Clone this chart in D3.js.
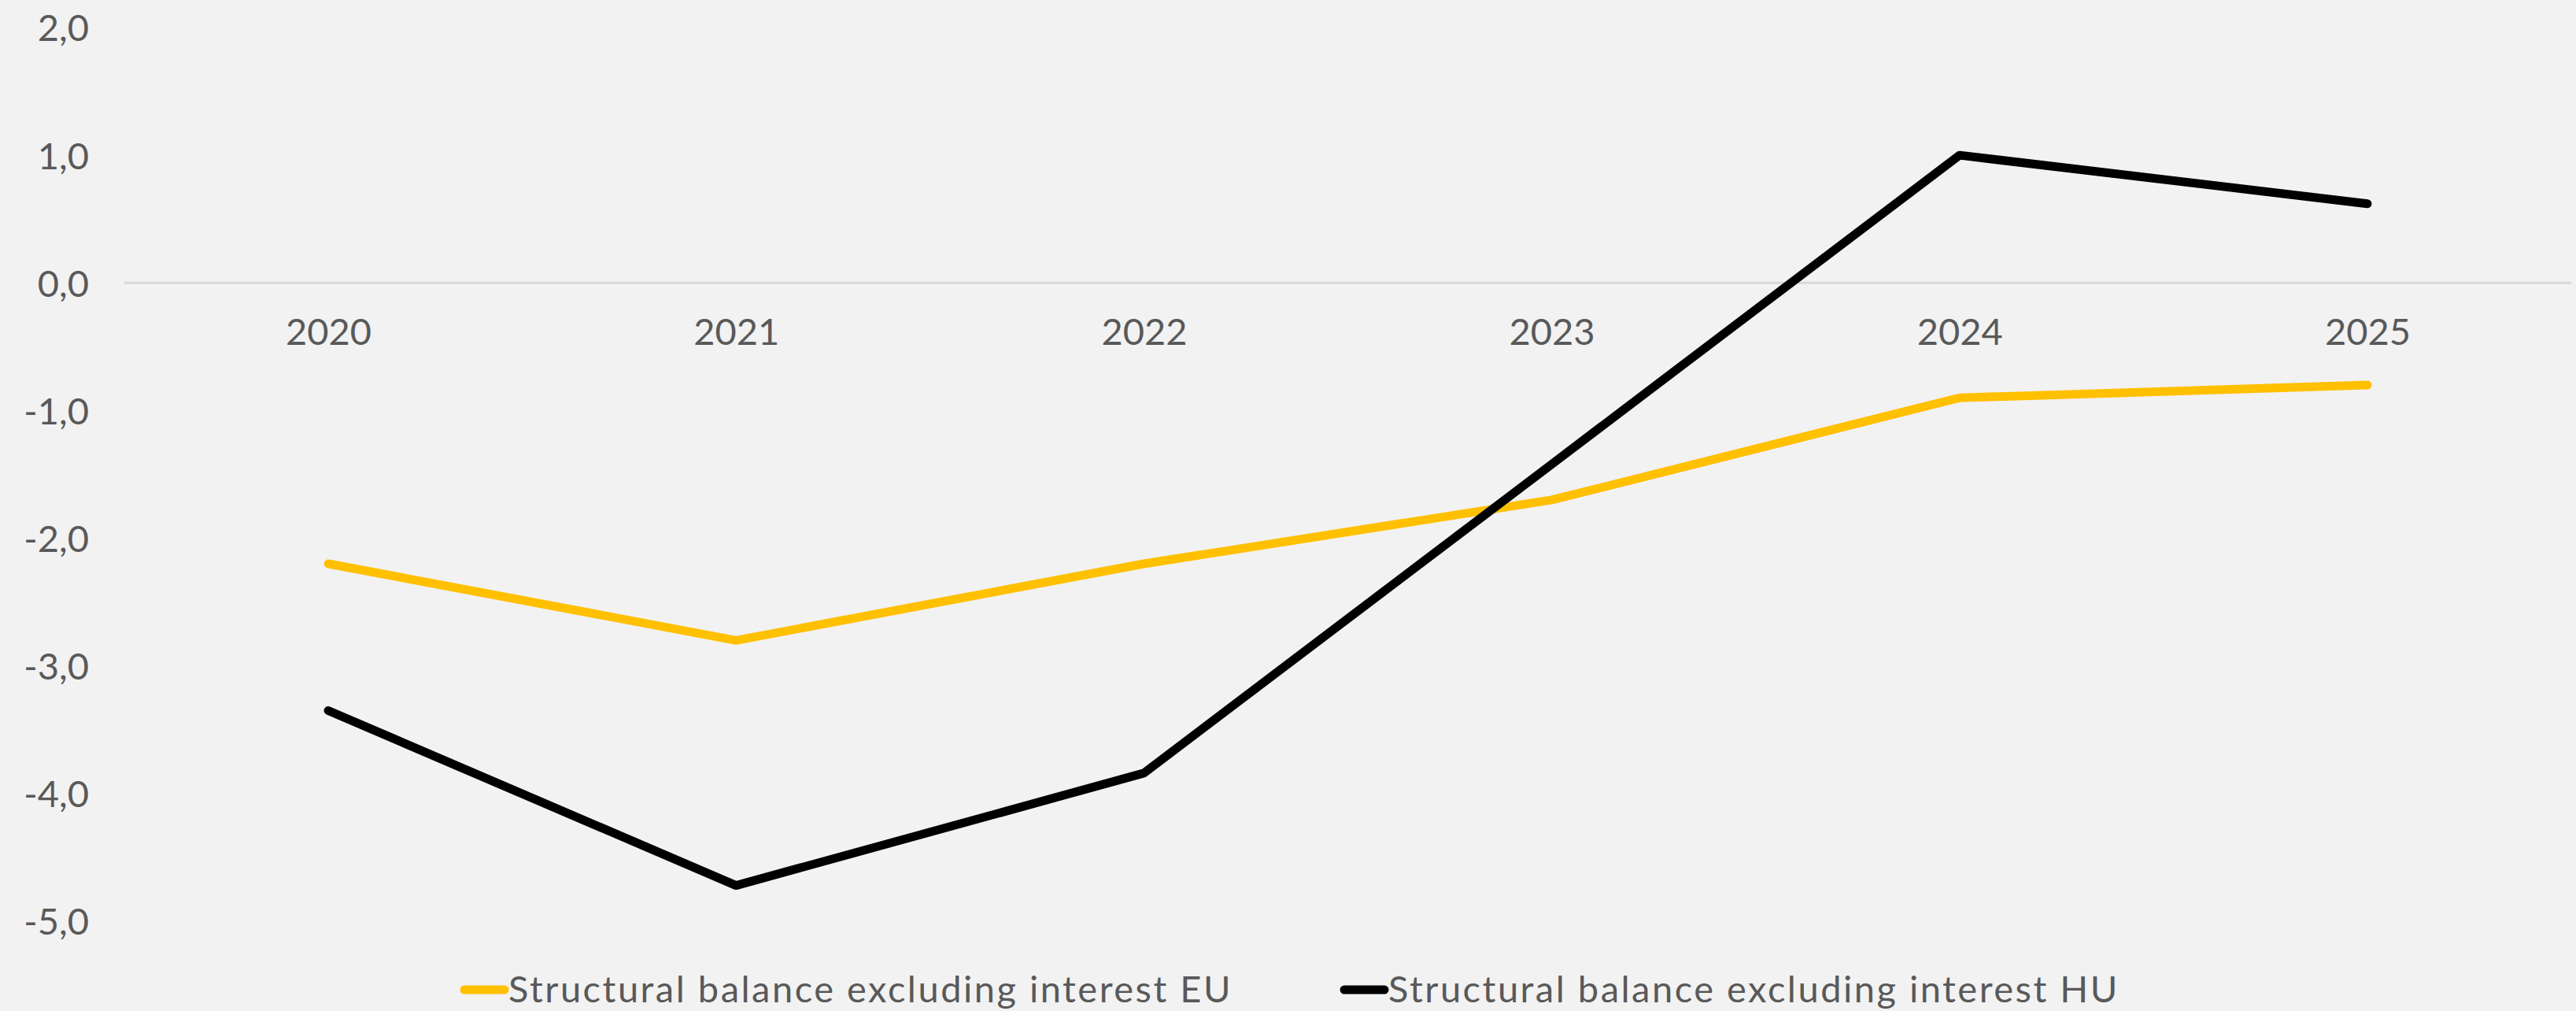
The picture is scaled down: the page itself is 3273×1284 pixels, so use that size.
<!DOCTYPE html>
<html>
<head>
<meta charset="utf-8">
<script src="https://cdn.jsdelivr.net/npm/d3@7"></script>
<style>
  html, body { margin: 0; padding: 0; background: #f2f2f2; }
  svg { display: block; }
  text { font-family: Lato, "Open Sans", sans-serif; fill: #595959; }
</style>
</head>
<body>
<svg id="chart" width="3273" height="1284"></svg>
<script>
// data
const years = ["2020", "2021", "2022", "2023", "2024", "2025"];
const euValues = [-2.2, -2.8, -2.2, -1.7, -0.9, -0.8];
const huValues = [-3.35, -4.72, -3.84, -1.42, 1.0, 0.62];
const seriesNames = ["Structural balance excluding interest EU", "Structural balance excluding interest HU"];
const seriesColors = ["#ffc000", "#000000"];
const yTicks = [2, 1, 0, -1, -2, -3, -4, -5];

const width = 3273, height = 1284;
const plotLeft = 158, plotRight = 3267, plotTop = 35, plotBottom = 1170;
const fontSize = 47;

const svg = d3.select("#chart");

svg.append("rect")
  .attr("width", width)
  .attr("height", height)
  .attr("fill", "#f2f2f2");

const x = d3.scalePoint()
  .domain(years)
  .range([plotLeft, plotRight])
  .padding(0.5);

const y = d3.scaleLinear()
  .domain([-5, 2])
  .range([plotBottom, plotTop]);

// y axis labels
const yAxis = svg.append("g")
  .attr("transform", "translate(113,0)")
  .call(d3.axisLeft(y).tickValues(yTicks).tickSize(0).tickPadding(0)
    .tickFormat(d => d3.format(".1f")(d).replace(".", ",").replace("−", "-")));
yAxis.select(".domain").remove();
yAxis.selectAll("text")
  .attr("font-size", fontSize)
  .attr("font-family", "Lato, sans-serif")
  .attr("fill", "#595959")
  .attr("dy", "0.36em");

// zero line
svg.append("line")
  .attr("x1", plotLeft)
  .attr("x2", plotRight)
  .attr("y1", y(0))
  .attr("y2", y(0))
  .attr("stroke", "#d9d9d9")
  .attr("stroke-width", 3);

// category labels under the zero line
const xAxis = svg.append("g")
  .attr("transform", `translate(0,${y(0)})`)
  .call(d3.axisBottom(x).tickSize(0).tickPadding(0));
xAxis.select(".domain").remove();
xAxis.selectAll("text")
  .attr("font-size", fontSize)
  .attr("font-family", "Lato, sans-serif")
  .attr("fill", "#595959")
  .attr("dy", null)
  .attr("y", 79);

// lines
const line = d3.line()
  .x((d, i) => x(years[i]))
  .y(d => y(d));

[euValues, huValues].forEach((vals, k) => {
  svg.append("path")
    .datum(vals)
    .attr("d", line)
    .attr("fill", "none")
    .attr("stroke", seriesColors[k])
    .attr("stroke-width", 11)
    .attr("stroke-linejoin", "round")
    .attr("stroke-linecap", "round");
});

// legend
const legendX = [585, 1703];
const legend = svg.append("g");
seriesNames.forEach((name, k) => {
  legend.append("line")
    .attr("x1", legendX[k] + 5)
    .attr("x2", legendX[k] + 56)
    .attr("y1", 1257)
    .attr("y2", 1257)
    .attr("stroke", seriesColors[k])
    .attr("stroke-width", 11)
    .attr("stroke-linecap", "round");
  legend.append("text")
    .attr("x", legendX[k] + 61)
    .attr("y", 1273)
    .attr("font-size", fontSize)
    .attr("letter-spacing", 2.5)
    .text(name);
});
</script>
</body>
</html>
